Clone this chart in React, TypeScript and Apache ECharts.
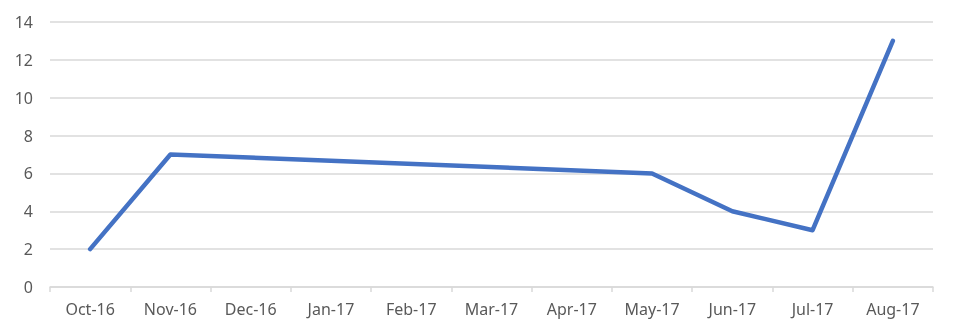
import React, { useEffect, useRef } from "react";
import * as echarts from "echarts";

const categories = ["Oct-16", "Nov-16", "Dec-16", "Jan-17", "Feb-17", "Mar-17", "Apr-17", "May-17", "Jun-17", "Jul-17", "Aug-17"];
const values: (number | null)[] = [2, 7, null, null, null, null, null, 6, 4, 3, 13];
const yTicks = [0, 2, 4, 6, 8, 10, 12, 14];

export default function App() {
  const ref = useRef<HTMLDivElement>(null);
  useEffect(() => {
    if (!ref.current) return;
    const chart = echarts.init(ref.current, null, { renderer: "svg" });
    chart.setOption({
      animation: false,
      grid: { left: 50, right: 23, top: 22, bottom: 48, containLabel: false },
      xAxis: {
        type: "category",
        data: categories,
        boundaryGap: true,
        axisLine: { lineStyle: { color: "#d9d9d9", width: 1.5 } },
        axisTick: { show: true, length: 5, lineStyle: { color: "#d9d9d9", width: 1.5 } },
        axisLabel: { color: "#595959", fontSize: 16, fontFamily: "Noto Sans", margin: 14 },
      },
      yAxis: {
        type: "value",
        min: yTicks[0],
        max: yTicks[yTicks.length - 1],
        interval: 2,
        axisLine: { show: false },
        axisTick: { show: false },
        splitLine: { lineStyle: { color: "#d9d9d9", width: 1.5 } },
        axisLabel: { color: "#595959", fontSize: 16, fontFamily: "Noto Sans", margin: 17 },
      },
      series: [
        {
          type: "line",
          data: values,
          connectNulls: true,
          showSymbol: false,
          symbol: "none",
          lineStyle: { color: "#4472C4", width: 4.5, cap: "round", join: "round" },
        },
      ],
    });
    return () => chart.dispose();
  }, []);
  return <div ref={ref} style={{ position: "fixed", left: 0, top: 0, width: 956, height: 335 }} />;
}
